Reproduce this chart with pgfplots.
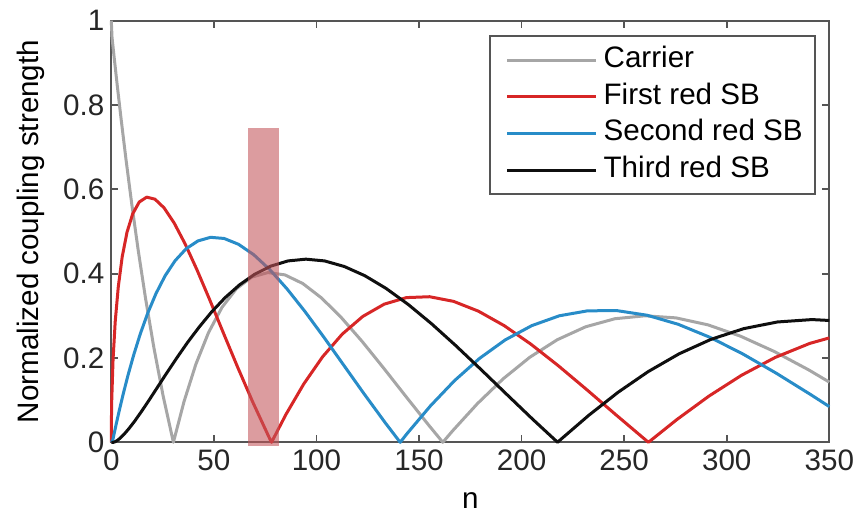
\documentclass[border=0pt]{standalone}
\usepackage{pgfplots}
\pgfplotsset{compat=1.18}
\usepackage{fontspec}
\setmainfont{Liberation Sans}
\definecolor{cgray}{RGB}{166,166,166}
\definecolor{cred}{RGB}{215,38,38}
\definecolor{cblue}{RGB}{40,140,200}
\definecolor{cblack}{RGB}{15,15,15}
\definecolor{axgray}{RGB}{85,85,85}
\definecolor{rectc}{RGB}{195,85,90}
\begin{document}%
\begin{tikzpicture}[font=\fontsize{14.8}{17}\selectfont]
\begin{axis}[
  scale only axis,
  width=359pt, height=210.8pt,
  xmin=0, xmax=350, ymin=0, ymax=1,
  xtick={0,50,...,350},
  ytick={0,0.2,0.4,0.6,0.8,1},
  /pgf/number format/assume math mode=true,
  ticklabel style={font=\fontsize{14.8}{17}\selectfont, text=black!85},
  xticklabel style={inner xsep=0pt},
  axis line style={draw=axgray, line width=1pt},
  major tick style={draw=axgray, line width=0.9pt},
  major tick length=3.5pt,
  tick align=inside,
  clip=false,
  xlabel={n},
  ylabel={Normalized coupling strength},
  every axis x label/.style={at={(axis description cs:0.5,-0.139)}, anchor=center, inner sep=0pt, font=\fontsize{14.8}{17}\selectfont},
  every axis y label/.style={at={(axis description cs:-0.1114,0.5)}, anchor=center, inner sep=0pt, rotate=90, font=\fontsize{14.8}{17}\selectfont},
  legend style={at={(axis description cs:0.981,0.966)}, anchor=north east,
    draw=axgray, line width=0.9pt, font=\fontsize{14.8}{17}\selectfont,
    inner xsep=3pt, inner ysep=3pt, row sep=0pt,
    nodes={inner ysep=2.4pt, inner xsep=3pt, text height=10.5pt, text depth=3pt}},
  legend cell align=left,
  legend image code/.code={\path (0pt,0pt); \draw[#1, line width=1.5pt] (5pt,0pt) -- (49.5pt,0pt);},
  every axis plot/.append style={line width=1.5pt, line join=round},
]
% Carrier
\addplot[cgray] coordinates {
(0,1) (0.3512,0.9604) (1.4152,0.9120) (2.9048,0.8463) (4.82,0.7652) (7.1608,0.6711)
(9.9272,0.5669) (13.1192,0.4554) (16.7368,0.3400) (20.78,0.2239) (25.2488,0.1104)
(30.27,0) (35.4632,0.0968) (41.2088,0.1850) (47.38,0.2601) (53.9768,0.3202)
(60.9992,0.3643) (68.4472,0.3918) (76.3208,0.4026) (84.62,0.3971) (93.3448,0.3766)
(102.4952,0.3423) (112.0712,0.2961) (122.0728,0.2404) (132.5,0.1776) (143.3528,0.1103)
(154.6312,0.0412) (161.61,0) (166.3352,0.0270) (178.4648,0.0917) (191.02,0.1506)
(204.0008,0.2017) (217.4072,0.2433) (231.2392,0.2740) (245.4968,0.2931) (260.18,0.3001)
(275.2888,0.2951) (290.8232,0.2786) (306.7832,0.2516) (323.1688,0.2154) (339.98,0.1717)
(350,0.1428)};
\addlegendentry{Carrier}
% First red SB
\addplot[cred] coordinates {
(0,0) (0.0532,0.0499) (0.2128,0.0995) (0.8512,0.1960) (1.9152,0.2867) (3.4048,0.3688)
(5.32,0.4401) (7.6608,0.4983) (10.4272,0.5419) (13.6192,0.5699) (17.2368,0.5815)
(21.28,0.5767) (25.7488,0.5560) (30.6432,0.5202) (35.9632,0.4708) (41.7088,0.4097)
(47.88,0.3391) (54.4768,0.2613) (61.4992,0.1792) (68.9472,0.0955) (76.8208,0.0128)
(78.11,0) (85.12,0.0660) (93.8448,0.1386) (102.9952,0.2028) (112.5712,0.2566)
(122.5728,0.2985) (133,0.3276) (143.8528,0.3432) (155.1312,0.3453) (166.8352,0.3343)
(178.9648,0.3110) (191.52,0.2767) (204.5008,0.2329) (217.9072,0.1816) (231.7392,0.1250)
(245.9968,0.0652) (260.68,0.0047) (261.84,0) (275.7888,0.0543) (291.3232,0.1096)
(307.2832,0.1592) (323.6688,0.2014) (340.48,0.2346) (350,0.2476)};
\addlegendentry{First red SB}
% Second red SB
\addplot[cblue] coordinates {
(0,0) (0.7128,0.0050) (1.3512,0.0197) (2.4152,0.0437) (3.9048,0.0757) (5.82,0.1149)
(8.1608,0.1594) (10.9272,0.2073) (14.1192,0.2570) (17.7368,0.3061) (21.78,0.3528)
(26.2488,0.3951) (31.1432,0.4310) (36.4632,0.4590) (42.2088,0.4776) (48.38,0.4862)
(54.9768,0.4835) (61.9992,0.4697) (69.4472,0.4449) (77.3208,0.4093) (85.62,0.3641)
(94.3448,0.3106) (103.4952,0.2501) (113.0712,0.1845) (123.0728,0.1160) (133.5,0.0466)
(140.81,0) (144.3528,0.0217) (155.6312,0.0867) (167.3352,0.1464) (179.4648,0.1989)
(192.02,0.2429) (205.0008,0.2768) (218.4072,0.3001) (232.2392,0.3119) (246.4968,0.3123)
(261.18,0.3014) (276.2888,0.2800) (291.8232,0.2490) (307.7832,0.2097) (324.1688,0.1638)
(340.98,0.1130) (350,0.0847)};
\addlegendentry{Second red SB}
% Third red SB
\addplot[cblack] coordinates {
(0,0) (1,0) (1.2128,0.0002) (1.8512,0.0013) (2.9152,0.0044) (4.4048,0.0102) (6.32,0.0196)
(8.6608,0.0329) (11.4272,0.0504) (14.6192,0.0725) (18.2368,0.0987) (22.28,0.1289)
(26.7488,0.1624) (31.6432,0.1981) (36.9632,0.2354) (42.7088,0.2726) (48.88,0.3091)
(55.4768,0.3431) (62.4992,0.3734) (69.9472,0.3988) (77.8208,0.4180) (86.12,0.4302)
(94.8448,0.4344) (103.9952,0.4302) (113.5712,0.4170) (123.5728,0.3952) (134,0.3648)
(144.8528,0.3265) (156.1312,0.2811) (167.8352,0.2297) (179.9648,0.1738) (192.52,0.1148)
(205.5008,0.0543) (217.56,0) (218.9072,0.0060) (232.7392,0.0640) (246.9968,0.1185)
(261.68,0.1676) (276.7888,0.2099) (292.3232,0.2442) (308.2832,0.2696) (324.6688,0.2854)
(341.48,0.2911) (350,0.2890)};
\addlegendentry{Third red SB}
% shaded band
\addplot[draw=none, fill=rectc, fill opacity=0.58, forget plot]
  coordinates {(66.6,-0.008) (81.9,-0.008) (81.9,0.746) (66.6,0.746)} -- cycle;
\end{axis}
\path (current axis.south west) ++(-55.65pt,-36.35pt);
\path (current axis.north east) ++(13.35pt,10.35pt);
\end{tikzpicture}%
\end{document}
